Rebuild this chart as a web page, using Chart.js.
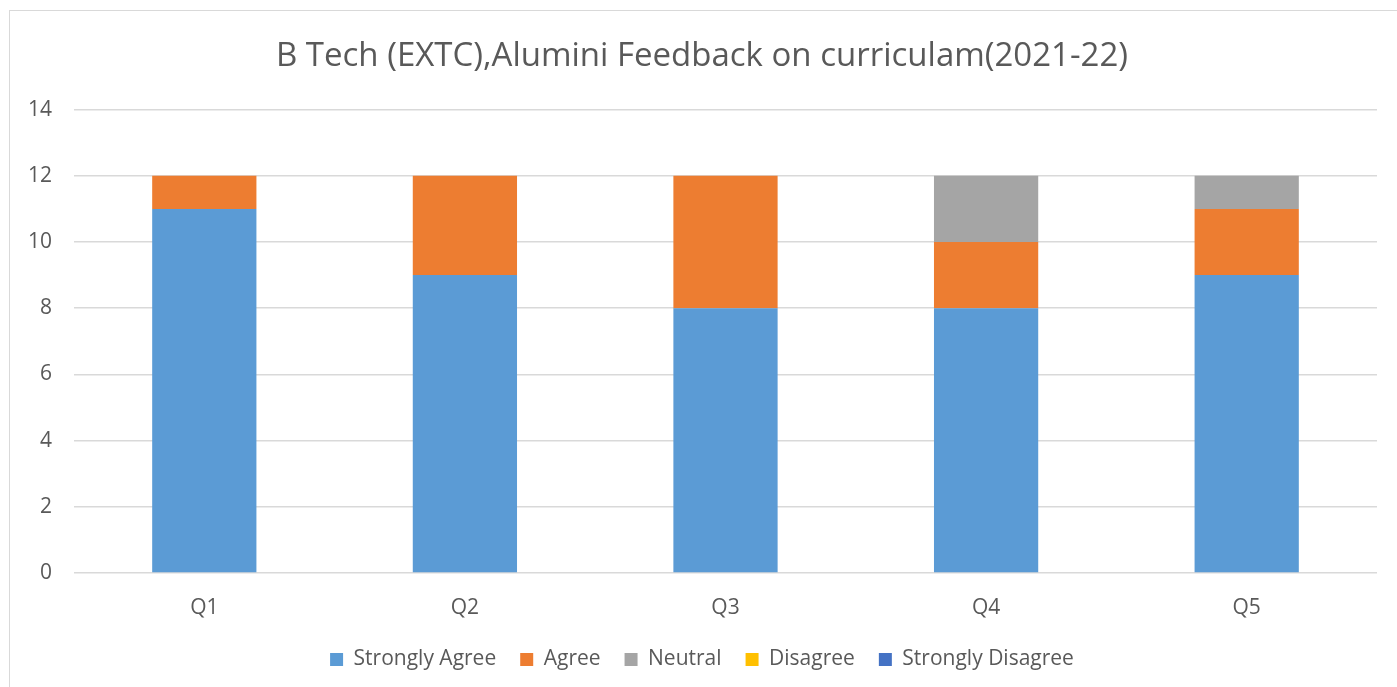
<!DOCTYPE html>
<html>
<head>
<meta charset="utf-8">
<script src="https://cdn.jsdelivr.net/npm/chart.js@4.4.0/dist/chart.umd.min.js"></script>
<style>
  html, body { margin: 0; padding: 0; background: #fff; }
  #wrap { position: relative; width: 1397px; height: 687px; overflow: hidden; }
  #frame { position: absolute; left: 9px; top: 10px; width: 1400px; height: 700px; border: 1.5px solid #d9d9d9; box-sizing: border-box; }
  canvas { position: absolute; left: 0; top: 0; }
</style>
</head>
<body>
<div id="wrap">
  <div id="frame"></div>
  <canvas id="c" width="1420" height="687"></canvas>
</div>
<script>
const categories = ["Q1", "Q2", "Q3", "Q4", "Q5"];
const stronglyAgree = [11, 9, 8, 8, 9];
const agree = [1, 3, 4, 2, 2];
const neutral = [0, 0, 0, 2, 1];
const disagree = [0, 0, 0, 0, 0];
const stronglyDisagree = [0, 0, 0, 0, 0];
const yTicks = [0, 2, 4, 6, 8, 10, 12, 14];

const textColor = "#595959";
const fontFamily = "'Open Sans', 'Noto Sans', sans-serif";

new Chart(document.getElementById("c"), {
  type: "bar",
  data: {
    labels: categories,
    datasets: [
      { label: "Strongly Agree", data: stronglyAgree, backgroundColor: "#5b9bd5" },
      { label: "Agree", data: agree, backgroundColor: "#ed7d31" },
      { label: "Neutral", data: neutral, backgroundColor: "#a5a5a5" },
      { label: "Disagree", data: disagree, backgroundColor: "#ffc000" },
      { label: "Strongly Disagree", data: stronglyDisagree, backgroundColor: "#4472c4" }
    ]
  },
  options: {
    responsive: false,
    animation: false,
    devicePixelRatio: 1,
    layout: { padding: { left: 27, right: 43, top: 0, bottom: 7 } },
    datasets: { bar: { barPercentage: 0.4, categoryPercentage: 1.0, borderWidth: 0 } },
    plugins: {
      title: {
        display: true,
        text: "B Tech (EXTC),Alumini Feedback on curriculam(2021-22)",
        color: textColor,
        font: { family: fontFamily, size: 33, weight: "normal", lineHeight: 1.2 },
        padding: { top: 37, bottom: 33 }
      },
      legend: {
        position: "bottom",
        labels: {
          color: textColor,
          font: { family: fontFamily, size: 21, lineHeight: 1.2 },
          boxWidth: 13,
          boxHeight: 13,
          padding: 24
        }
      },
      tooltip: { enabled: false }
    },
    scales: {
      x: {
        stacked: true,
        grid: { display: false, drawTicks: false },
        border: { display: false },
        ticks: { color: textColor, font: { family: fontFamily, size: 21 }, padding: 22 },
        afterFit: (s) => { s.height = 52; }
      },
      y: {
        stacked: true,
        min: 0,
        max: 14,
        afterBuildTicks: (s) => { s.ticks = yTicks.map(v => ({ value: v })); },
        grid: { color: "#d9d9d9", lineWidth: 1.5, drawTicks: false },
        border: { display: false },
        ticks: { color: textColor, font: { family: fontFamily, size: 21 }, padding: 22, stepSize: 2 },
        afterFit: (s) => { s.width = 47; }
      }
    }
  }
});
</script>
</body>
</html>
